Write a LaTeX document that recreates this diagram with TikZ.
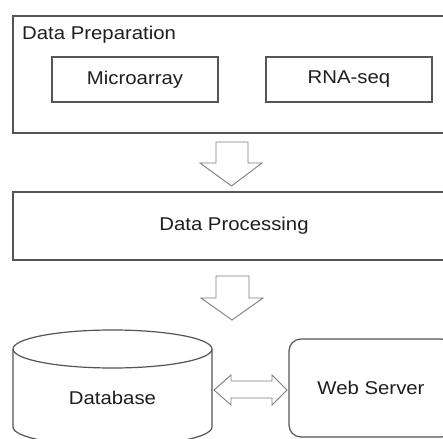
\documentclass[tikz,border=0pt]{standalone}
\usepackage{fontspec}
\setmainfont{Liberation Sans}[FakeStretch=1.1]
\definecolor{linegray}{RGB}{85,85,85}
\definecolor{arrowgray}{RGB}{125,125,125}
\definecolor{textgray}{RGB}{30,30,30}
\begin{document}
\begin{tikzpicture}[x=1pt,y=-1pt,
  box/.style={draw=linegray, line width=1.2pt, inner sep=0pt},
  lbl/.style={font=\fontsize{18.5}{20}\selectfont, text=textgray},
  blockarrow/.style={draw=arrowgray, line width=0.9pt, fill=white, line join=miter}]
\useasboundingbox (0,0) rectangle (443,438);
\fill[white] (0,0) rectangle (443,438);
\clip (0,0) rectangle (443,438);
% Data preparation
\node[box, minimum width=442pt, minimum height=117pt] (prep) at (234,74.5) {};
\node[lbl, inner sep=0pt, anchor=base west] (preplbl) at (22,40) {Data Preparation};
\node[box, lbl, minimum width=166pt, minimum height=45pt] (micro) at (135,79.5) {Microarray};
\node[box, lbl, minimum width=166pt, minimum height=45pt] (rna) at (349,79.5) {RNA-seq};
% arrow 1
\draw[blockarrow] (216,142) -- (248,142) -- (248,163) -- (262,163) -- (231.5,186) -- (200,163) -- (216,163) -- cycle;
% Data processing
\node[box, lbl, minimum width=442pt, minimum height=68pt] (proc) at (234,226) {Data Processing};
% arrow 2
\draw[blockarrow] (216,276) -- (249,276) -- (249,298) -- (263,298) -- (232,320) -- (201,298) -- (216,298) -- cycle;
% Database cylinder
\draw[box, fill=white] (13,349) -- (13,427) arc[start angle=180, end angle=0, x radius=99.5, y radius=19] -- (212,349);
\draw[box] (112.5,349) ellipse[x radius=99.5, y radius=19];
\node[lbl] (db) at (112.5,398) {Database};
% Web server
\node[box, lbl, rounded corners=12pt, minimum width=164pt, minimum height=98pt] (web) at (371,388) {Web Server};
% double arrow
\draw[blockarrow] (214,390) -- (231,375) -- (231,381) -- (272,381) -- (272,375) -- (287,390) -- (272,405) -- (272,398) -- (231,398) -- (231,405) -- cycle;
\end{tikzpicture}
\end{document}
